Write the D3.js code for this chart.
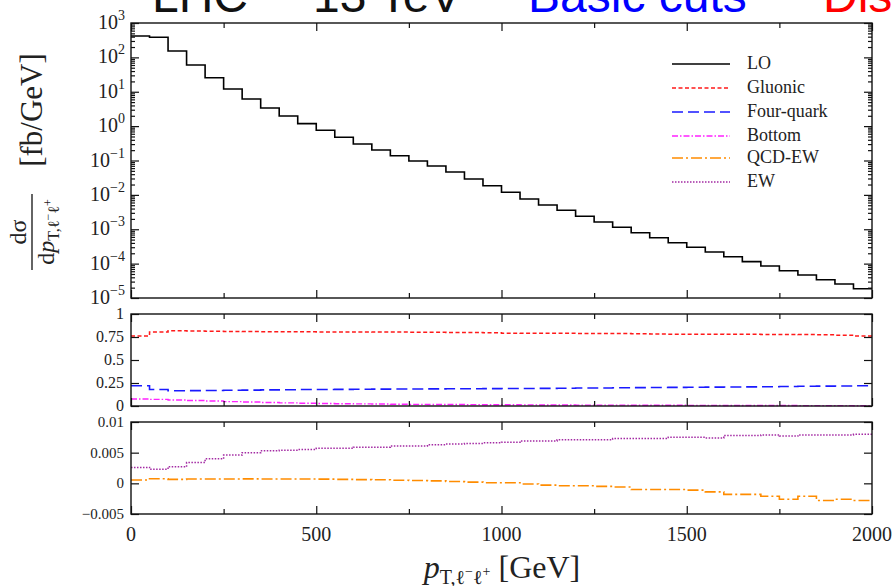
<!DOCTYPE html>
<html>
<head>
<meta charset="utf-8">
<script src="https://cdn.jsdelivr.net/npm/d3@7"></script>
<style>
body { margin: 0; background: #fff; }
svg { display: block; }
text { font-family: "Liberation Serif", "DejaVu Serif", serif; fill: #222; }
</style>
</head>
<body>
<svg id="chart" width="894" height="586"></svg>
<script>
var svg = d3.select("#chart");

// bins of 50 GeV from 0 to 2000
var binEdges = d3.range(0, 2001, 50);

// LO differential cross section [fb/GeV]
var lo = [419, 384, 153, 60, 25.6, 12.0, 6.15, 3.37, 1.97, 1.18,
	0.756, 0.473, 0.302, 0.202, 0.138, 0.0966, 0.0692, 0.0462, 0.029, 0.0185,
	0.0119, 0.00759, 0.00507, 0.00356, 0.00238, 0.00162, 0.00114, 0.000794, 0.000568, 0.000406,
	0.000299, 0.000218, 0.000159, 0.000114, 8.53e-5, 6.22e-5, 4.67e-5, 3.4e-5, 2.55e-5, 1.86e-5];

// relative contributions, middle panel
var gluonic = [0.76, 0.804, 0.818, 0.815, 0.812, 0.81, 0.809, 0.808, 0.807, 0.806,
	0.805, 0.805, 0.804, 0.803, 0.803, 0.802, 0.801, 0.80, 0.799, 0.795,
	0.791, 0.79, 0.79, 0.79, 0.789, 0.788, 0.787, 0.785, 0.782, 0.781,
	0.78, 0.78, 0.779, 0.779, 0.778, 0.777, 0.776, 0.774, 0.77, 0.762];
var fourQuark = [0.22, 0.18, 0.166, 0.167, 0.169, 0.171, 0.173, 0.175, 0.177, 0.179,
	0.18, 0.181, 0.182, 0.183, 0.184, 0.185, 0.186, 0.187, 0.188, 0.189,
	0.19, 0.191, 0.192, 0.193, 0.195, 0.196, 0.198, 0.2, 0.201, 0.202,
	0.203, 0.205, 0.206, 0.208, 0.21, 0.212, 0.214, 0.216, 0.218, 0.22];
var bottom = [0.076, 0.072, 0.066, 0.06, 0.054, 0.048, 0.043, 0.038, 0.034, 0.03,
	0.027, 0.025, 0.023, 0.021, 0.019, 0.018, 0.017, 0.016, 0.015, 0.014,
	0.013, 0.012, 0.011, 0.011, 0.01, 0.0095, 0.009, 0.0085, 0.008, 0.0075,
	0.007, 0.0065, 0.006, 0.0055, 0.005, 0.0047, 0.0044, 0.0041, 0.0038, 0.0035];

// bottom panel
var qcdEw = [0.00054, 0.00075, 0.00065, 0.0007, 0.0007, 0.0007, 0.00072, 0.0007, 0.0007, 0.0007,
	0.00068, 0.00065, 0.0006, 0.00058, 0.0005, 0.00045, 0.0004, 0.0003, 0.0002, 0.0001,
	0.0001, -0.0001, -0.0003, -0.0004, -0.0004, -0.0005, -0.0006, -0.001, -0.001, -0.001,
	-0.0011, -0.0014, -0.0018, -0.0018, -0.0021, -0.0026, -0.0021, -0.0028, -0.0026, -0.0028];
var ew = [0.0026, 0.0023, 0.0027, 0.0034, 0.004, 0.0046, 0.005, 0.0053, 0.0054, 0.0055,
	0.0057, 0.0057, 0.0059, 0.0059, 0.0061, 0.0061, 0.0063, 0.0064, 0.0065, 0.0066,
	0.0067, 0.0069, 0.0069, 0.0071, 0.0071, 0.0071, 0.0073, 0.0073, 0.0073, 0.0075,
	0.0075, 0.0074, 0.0078, 0.0078, 0.0079, 0.0077, 0.0079, 0.0079, 0.0079, 0.008];

var xTicks = [0, 500, 1000, 1500, 2000];
var xMinor = [250, 750, 1250, 1750];
var midTicks = [0, 0.25, 0.5, 0.75, 1];
var midLabels = ["0", "0.25", "0.5", "0.75", "1"];
var lowTicks = [-0.005, 0, 0.005, 0.01];
var lowLabels = ["\u22120.005", "0", "0.005", "0.01"];
var decades = [-5, -4, -3, -2, -1, 0, 1, 2, 3];

var series = [
	{name: "LO", color: "#000", dash: null, width: 1.6},
	{name: "Gluonic", color: "#ff1a1a", dash: "4,2.5", width: 1.5},
	{name: "Four-quark", color: "#1a1aff", dash: "11,5", width: 1.6},
	{name: "Bottom", color: "#ff22ff", dash: "6,2,1.5,2", width: 1.4},
	{name: "QCD-EW", color: "#ff8c00", dash: "11,3,2,3", width: 1.6},
	{name: "EW", color: "#a32aa3", dash: "1.5,1.5", width: 1.5}
];

var left = 131, right = 872;
var x = d3.scaleLinear().domain([0, 2000]).range([left, right]);
var yTop = d3.scaleLog().domain([1e-5, 1e3]).range([298, 23]);
var yMid = d3.scaleLinear().domain([0, 1]).range([406, 314]);
var yLow = d3.scaleLinear().domain([-0.005, 0.01]).range([514, 422]);

function stepPath(values, yScale){
	var pts = values.map(function(v, i){ return [binEdges[i], v]; });
	pts.push([binEdges[values.length], values[values.length - 1]]);
	return d3.line()
		.x(function(d){ return x(d[0]); })
		.y(function(d){ return yScale(d[1]); })
		.curve(d3.curveStepAfter)(pts);
}

function drawSeries(values, yScale, s){
	svg.append("path")
		.attr("d", stepPath(values, yScale))
		.attr("fill", "none")
		.attr("stroke", s.color)
		.attr("stroke-width", s.width)
		.attr("stroke-dasharray", s.dash);
}

function inward(g){
	g.select(".domain").remove();
	g.selectAll(".tick line").attr("stroke", "#111").attr("stroke-width", 1.2);
}

function frame(yScale, yMajor, yMinor){
	var r = yScale.range();
	var top = r[1], bot = r[0];
	svg.append("g").attr("transform", "translate(0," + bot + ")")
		.call(d3.axisBottom(x).tickValues(xTicks).tickSize(-8).tickFormat("")).call(inward);
	svg.append("g").attr("transform", "translate(0," + bot + ")")
		.call(d3.axisBottom(x).tickValues(xMinor).tickSize(-5).tickFormat("")).call(inward);
	svg.append("g").attr("transform", "translate(0," + top + ")")
		.call(d3.axisTop(x).tickValues(xTicks).tickSize(-8).tickFormat("")).call(inward);
	svg.append("g").attr("transform", "translate(0," + top + ")")
		.call(d3.axisTop(x).tickValues(xMinor).tickSize(-5).tickFormat("")).call(inward);
	[[yMajor, 8], [yMinor, 4]].forEach(function(t){
		if(!t[0].length) return;
		svg.append("g").attr("transform", "translate(" + left + ",0)")
			.call(d3.axisLeft(yScale).tickValues(t[0]).tickSize(-t[1]).tickFormat("")).call(inward);
		svg.append("g").attr("transform", "translate(" + right + ",0)")
			.call(d3.axisRight(yScale).tickValues(t[0]).tickSize(-t[1]).tickFormat("")).call(inward);
	});
	svg.append("rect")
		.attr("x", left).attr("y", top)
		.attr("width", right - left).attr("height", bot - top)
		.attr("fill", "none").attr("stroke", "#111").attr("stroke-width", 1.4);
}

// title, mostly cut off at the top of the picture
var title = [
	{t: "LHC", x: 152, c: "#111"},
	{t: "13 TeV", x: 313, c: "#111"},
	{t: "Basic cuts", x: 528, c: "#0000ff"},
	{t: "Distributions", x: 823, c: "#ff0000"}
];
svg.selectAll(".title").data(title).enter().append("text")
	.attr("x", function(d){ return d.x; })
	.attr("y", 12)
	.style("font-family", "'Liberation Sans', Arial, sans-serif")
	.style("font-size", "48px")
	.style("fill", function(d){ return d.c; })
	.text(function(d){ return d.t; });

// top panel
var logMinor = [];
decades.slice(0, -1).forEach(function(d){
	for(var m = 2; m <= 9; m++) logMinor.push(m * Math.pow(10, d));
});
drawSeries(lo, yTop, series[0]);
frame(yTop, decades.map(function(d){ return Math.pow(10, d); }), logMinor);

var topLab = svg.selectAll(".toplab").data(decades).enter().append("text")
	.attr("x", 125)
	.attr("y", function(d){ return yTop(Math.pow(10, d)) + 6; })
	.attr("text-anchor", "end")
	.style("font-size", "20px");
topLab.append("tspan").text("10");
topLab.append("tspan").attr("dy", -9).style("font-size", "14px")
	.text(function(d){ return d < 0 ? "\u2212" + (-d) : d; });

// middle panel
drawSeries(gluonic, yMid, series[1]);
drawSeries(fourQuark, yMid, series[2]);
drawSeries(bottom, yMid, series[3]);
frame(yMid, midTicks, []);
svg.selectAll(".midlab").data(midTicks).enter().append("text")
	.attr("x", 124)
	.attr("y", function(d){ return yMid(d) + 5; })
	.attr("text-anchor", "end")
	.style("font-size", "16px")
	.text(function(d, i){ return midLabels[i]; });

// bottom panel
drawSeries(qcdEw, yLow, series[4]);
drawSeries(ew, yLow, series[5]);
frame(yLow, lowTicks, []);
svg.selectAll(".lowlab").data(lowTicks).enter().append("text")
	.attr("x", 124)
	.attr("y", function(d){ return yLow(d) + 5; })
	.attr("text-anchor", "end")
	.style("font-size", "15px")
	.text(function(d, i){ return lowLabels[i]; });

// x tick labels
svg.selectAll(".xlab").data(xTicks).enter().append("text")
	.attr("x", function(d){ return x(d); })
	.attr("y", 541)
	.attr("text-anchor", "middle")
	.style("font-size", "20px")
	.text(function(d){ return d; });

// x axis title
var xt = svg.append("text").attr("x", 502).attr("y", 578)
	.attr("text-anchor", "middle").style("font-size", "32px");
xt.append("tspan").style("font-style", "italic").text("p");
xt.append("tspan").attr("dy", 6).style("font-size", "20px").text("T,\u2113");
xt.append("tspan").attr("dy", -8).style("font-size", "14px").text("\u2212");
xt.append("tspan").attr("dy", 8).style("font-size", "20px").text("\u2113");
xt.append("tspan").attr("dy", -8).style("font-size", "14px").text("+");
xt.append("tspan").attr("dy", 2).text(" [GeV]");

// y axis title, rotated
var yt = svg.append("g").attr("transform", "rotate(-90)");
yt.append("text").attr("x", -110).attr("y", 42)
	.attr("text-anchor", "middle").style("font-size", "31px").text("[fb/GeV]");
yt.append("text").attr("x", -232).attr("y", 26)
	.attr("text-anchor", "middle").style("font-size", "24px")
	.text("d\u03c3");
yt.append("line").attr("x1", -270).attr("x2", -194).attr("y1", 32).attr("y2", 32)
	.attr("stroke", "#111").attr("stroke-width", 1.3);
var den = yt.append("text").attr("x", -232).attr("y", 54)
	.attr("text-anchor", "middle").style("font-size", "24px");
den.append("tspan").text("d");
den.append("tspan").style("font-style", "italic").text("p");
den.append("tspan").attr("dy", 5).style("font-size", "16px").text("T,\u2113");
den.append("tspan").attr("dy", -7).style("font-size", "12px").text("\u2212");
den.append("tspan").attr("dy", 7).style("font-size", "16px").text("\u2113");
den.append("tspan").attr("dy", -7).style("font-size", "12px").text("+");

// legend
var legend = svg.selectAll(".leg").data(series).enter().append("g")
	.attr("transform", function(d, i){ return "translate(672," + [64, 88, 112, 136, 158, 182][i] + ")"; });
legend.append("line")
	.attr("x1", 0).attr("x2", 58)
	.attr("stroke", function(d){ return d.color; })
	.attr("stroke-width", function(d){ return d.width; })
	.attr("stroke-dasharray", function(d){ return d.dash; });
legend.append("text")
	.attr("x", 75).attr("y", 5)
	.style("font-size", "18px")
	.text(function(d){ return d.name; });
</script>
</body>
</html>
